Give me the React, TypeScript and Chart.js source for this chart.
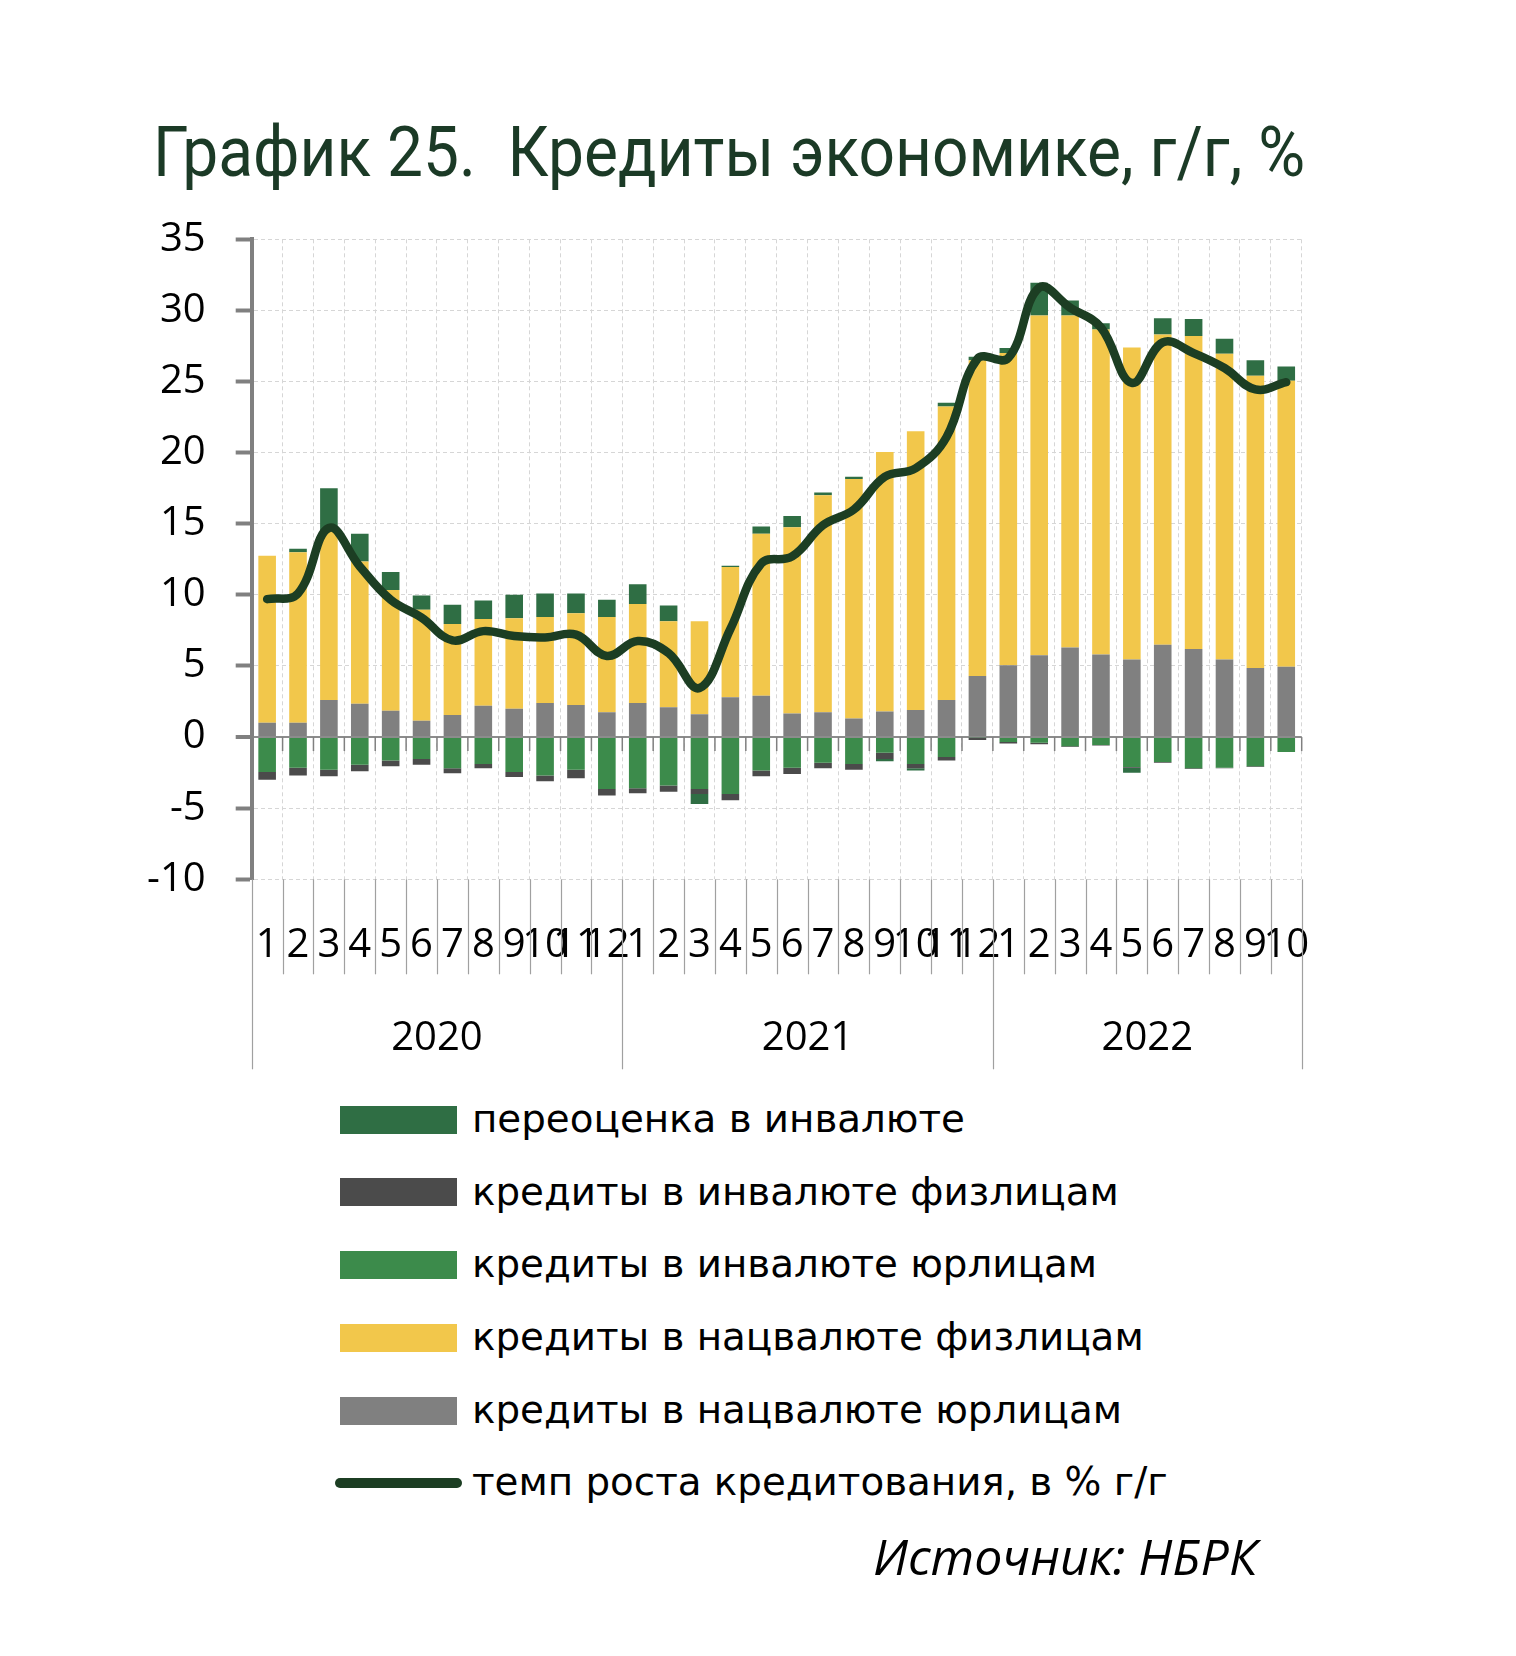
import React, { useEffect, useRef } from "react";
import { Chart, registerables } from "chart.js";

Chart.register(...registerables);

// ---------- data ----------
const months = [
  "1", "2", "3", "4", "5", "6", "7", "8", "9", "10", "11", "12",
  "1", "2", "3", "4", "5", "6", "7", "8", "9", "10", "11", "12",
  "1", "2", "3", "4", "5", "6", "7", "8", "9", "10",
];
const yearLabels = ["2020", "2021", "2022"];
const yearCounts = [12, 12, 10];

// кредиты в нацвалюте юрлицам
const natCorp = [
  1.0, 1.0, 2.6, 2.35, 1.85, 1.15, 1.55, 2.2, 2.0, 2.4, 2.25, 1.75,
  2.4, 2.1, 1.6, 2.8, 2.9, 1.65, 1.75, 1.3, 1.8, 1.9, 2.6, 4.3,
  5.05, 5.75, 6.3, 5.8, 5.45, 6.5, 6.2, 5.45, 4.85, 4.95,
];
// кредиты в нацвалюте физлицам
const natRetail = [
  11.75, 12.0, 11.9, 10.0, 8.5, 7.8, 6.4, 6.1, 6.35, 6.05, 6.45, 6.7,
  6.95, 6.05, 6.55, 9.15, 11.4, 13.1, 15.25, 16.85, 18.25, 19.6, 20.65, 22.2,
  21.95, 23.9, 23.35, 22.85, 21.95, 21.8, 22.0, 21.5, 20.55, 20.1,
];
// кредиты в инвалюте юрлицам
const fxCorp = [
  -2.45, -2.15, -2.3, -1.95, -1.65, -1.55, -2.2, -1.9, -2.45, -2.7, -2.3, -3.65,
  -3.6, -3.4, -3.65, -4.0, -2.35, -2.15, -1.8, -1.9, -1.1, -1.9, -1.4, -0.05,
  -0.35, -0.4, -0.65, -0.55, -2.1, -1.75, -2.2, -2.15, -2.05, -1.05,
];
// кредиты в инвалюте физлицам
const fxRetail = [
  -0.55, -0.55, -0.45, -0.45, -0.4, -0.4, -0.35, -0.3, -0.35, -0.4, -0.6, -0.45,
  -0.35, -0.45, -0.35, -0.45, -0.4, -0.45, -0.4, -0.4, -0.45, -0.3, -0.25, -0.15,
  -0.1, -0.1, -0.05, -0.05, -0.05, -0.05, -0.05, -0.05, -0.05, 0,
];
// переоценка в инвалюте
const fxRevaluation = [
  0, 0.25, 3.0, 1.95, 1.25, 1.0, 1.35, 1.3, 1.65, 1.65, 1.4, 1.2,
  1.4, 1.1, -0.7, 0.1, 0.5, 0.8, 0.2, 0.15, -0.15, -0.15, 0.25, 0.25,
  0.35, 2.3, 1.05, 0.45, -0.35, 1.15, 1.2, 1.05, 1.1, 1.0,
];
// темп роста кредитования, в % г/г
const growthRate = [
  9.7, 10.1, 14.7, 12.0, 9.65, 8.4, 6.8, 7.45, 7.1, 7.0, 7.2, 5.7,
  6.75, 5.9, 3.45, 7.6, 12.2, 12.7, 14.9, 16.0, 18.3, 18.9, 21.1, 26.6,
  26.65, 31.6, 30.2, 28.8, 24.9, 27.75, 27.0, 25.95, 24.45, 24.95,
];
const yMin = -10;
const yMax = 35;
const yStep = 5;

// ---------- styles ----------
const COLORS = {
  reval: "#2F6E44",
  fxRetail: "#4B4B4B",
  fxCorp: "#3C8B4B",
  natRetail: "#F2C74B",
  natCorp: "#808080",
  line: "#1C3E23",
};
const NUM_FONT = "'Open Sans', sans-serif";

const legendItems = [
  { label: "переоценка в инвалюте", color: COLORS.reval, kind: "box" },
  { label: "кредиты в инвалюте физлицам", color: COLORS.fxRetail, kind: "box" },
  { label: "кредиты в инвалюте юрлицам", color: COLORS.fxCorp, kind: "box" },
  { label: "кредиты в нацвалюте физлицам", color: COLORS.natRetail, kind: "box" },
  { label: "кредиты в нацвалюте юрлицам", color: COLORS.natCorp, kind: "box" },
  { label: "темп роста кредитования, в % г/г", color: COLORS.line, kind: "line" },
];

const axisDecor = {
  id: "axisDecor",
  beforeDatasetsDraw(chart: any) {
    const { ctx } = chart;
    const xs = chart.scales.x;
    const ys = chart.scales.y;
    const step = xs.getPixelForValue(1) - xs.getPixelForValue(0);
    const zeroY = ys.getPixelForValue(0);
    ctx.save();
    ctx.strokeStyle = "#808080";
    ctx.lineWidth = 1.5;
    for (let i = 0; i <= months.length; i++) {
      const bx = xs.getPixelForValue(i) - step / 2;
      ctx.beginPath();
      ctx.moveTo(bx, zeroY);
      ctx.lineTo(bx, zeroY + 14);
      ctx.stroke();
    }
    ctx.restore();
  },
  afterDraw(chart: any) {
    const { ctx, chartArea } = chart;
    const xs = chart.scales.x;
    const step = xs.getPixelForValue(1) - xs.getPixelForValue(0);
    const bnd = (i: number) => xs.getPixelForValue(i) - step / 2;
    const yearStarts: number[] = [0];
    yearCounts.forEach((c, k) => yearStarts.push(yearStarts[k] + c));
    ctx.save();
    ctx.strokeStyle = "#A0A0A0";
    ctx.lineWidth = 1.2;
    for (let i = 0; i <= months.length; i++) {
      const isYear = yearStarts.includes(i);
      const bx = Math.round(bnd(i)) + 0.5;
      ctx.beginPath();
      ctx.moveTo(bx, chartArea.bottom);
      ctx.lineTo(bx, chartArea.bottom + (isYear ? 190 : 95));
      ctx.stroke();
    }
    ctx.fillStyle = "#000";
    ctx.font = `40px ${NUM_FONT}`;
    ctx.textAlign = "center";
    ctx.textBaseline = "alphabetic";
    yearLabels.forEach((lab, k) => {
      const cx = (bnd(yearStarts[k]) + bnd(yearStarts[k + 1])) / 2;
      ctx.fillText(lab, cx, chartArea.bottom + 171);
    });
    ctx.restore();
  },
};

export default function App() {
  const ref = useRef<HTMLCanvasElement>(null);

  useEffect(() => {
    const barCommon = {
      type: "bar" as const,
      stack: "credit",
      barPercentage: 0.57,
      categoryPercentage: 1.0,
      borderWidth: 0,
    };
    const chart = new Chart(ref.current as HTMLCanvasElement, {
      type: "bar",
      data: {
        labels: months,
        datasets: [
          {
            type: "line",
            label: legendItems[5].label,
            data: growthRate,
            borderColor: COLORS.line,
            backgroundColor: COLORS.line,
            borderWidth: 8.5,
            pointRadius: 0,
            tension: 0.4,
            stack: "line",
            borderCapStyle: "round",
            borderJoinStyle: "round",
          } as any,
          { ...barCommon, label: legendItems[4].label, data: natCorp, backgroundColor: COLORS.natCorp },
          { ...barCommon, label: legendItems[3].label, data: natRetail, backgroundColor: COLORS.natRetail },
          { ...barCommon, label: legendItems[2].label, data: fxCorp, backgroundColor: COLORS.fxCorp },
          { ...barCommon, label: legendItems[1].label, data: fxRetail, backgroundColor: COLORS.fxRetail },
          { ...barCommon, label: legendItems[0].label, data: fxRevaluation, backgroundColor: COLORS.reval },
        ],
      },
      options: {
        responsive: false,
        animation: false,
        devicePixelRatio: 1,
        layout: { padding: { left: 140, right: 214.3, top: 239.3, bottom: 0 } },
        plugins: {
          legend: { display: false },
          title: { display: false },
          tooltip: { enabled: false },
        },
        scales: {
          x: {
            stacked: true,
            offset: true,
            grid: {
              offset: true,
              color: "#D6D6D6",
              lineWidth: 1,
              drawTicks: false,
            },
            border: { display: false, dash: [4, 3] },
            ticks: {
              autoSkip: false,
              maxRotation: 0,
              minRotation: 0,
              padding: 42,
              color: "#000",
              font: { family: NUM_FONT, size: 40 },
            },
            afterFit(scale: any) {
              scale.height = 200.7;
            },
          },
          y: {
            stacked: true,
            min: yMin,
            max: yMax,
            ticks: {
              stepSize: yStep,
              padding: 30,
              color: "#000",
              font: { family: NUM_FONT, size: 40 },
            },
            grid: {
              color: (c: any) => (c.tick && c.tick.value === 0 ? "#8C8C8C" : "#D6D6D6"),
              lineWidth: (c: any) => (c.tick && c.tick.value === 0 ? 2 : 1),
              drawTicks: true,
              tickLength: 16,
              tickColor: "#808080",
              tickWidth: 4,
              tickBorderDash: [],
            },
            border: {
              display: true,
              color: "#808080",
              width: 4,
              dash: (c: any) => (c.tick && c.tick.value === 0 ? [] : [4, 3]),
            },
            afterFit(scale: any) {
              scale.width = 111.7;
            },
          },
        },
      } as any,
      plugins: [axisDecor],
    });
    return () => chart.destroy();
  }, []);

  const legendTop0 = 1132.7;
  const legendStep = 72.7;
  const legendFont = 38.8;
  const titleFont = 70;
  const sourceFont = 50;

  return (
    <div
      style={{
        position: "absolute",
        left: 0,
        top: 0,
        width: 1516,
        height: 1650,
        background: "#fff",
        overflow: "hidden",
      }}
    >
      <div
        style={{
          position: "absolute",
          left: 153,
          top: 176.4 - 0.8415 * titleFont,
          fontFamily: "Roboto, sans-serif",
          fontSize: titleFont,
          lineHeight: 1,
          color: "#1B3A26",
          whiteSpace: "pre",
          transform: "scaleX(0.915)",
          transformOrigin: "0 0",
        }}
      >
        {"График 25.  Кредиты экономике, г/г, %"}
      </div>
      <canvas
        ref={ref}
        width={1516}
        height={1080}
        style={{ position: "absolute", left: 0, top: 0, width: 1516, height: 1080 }}
      />
      {legendItems.map((it, k) => {
        const base = legendTop0 + k * legendStep;
        const centerY = base - 13;
        return (
          <React.Fragment key={k}>
            {it.kind === "box" ? (
              <div
                style={{
                  position: "absolute",
                  left: 340,
                  top: centerY - 14,
                  width: 117,
                  height: 28,
                  background: it.color,
                }}
              />
            ) : (
              <div
                style={{
                  position: "absolute",
                  left: 335,
                  top: centerY - 5,
                  width: 127,
                  height: 10,
                  borderRadius: 5,
                  background: it.color,
                }}
              />
            )}
            <div
              style={{
                position: "absolute",
                left: 472,
                top: base - 0.846 * legendFont,
                fontFamily: "'DejaVu Sans', sans-serif",
                fontSize: legendFont,
                lineHeight: 1,
                color: "#000",
                whiteSpace: "pre",
              }}
            >
              {it.label}
            </div>
          </React.Fragment>
        );
      })}
      <div
        style={{
          position: "absolute",
          left: 873,
          top: 1575 - 0.888 * sourceFont,
          fontFamily: "'Open Sans', sans-serif",
          fontStyle: "italic",
          fontSize: sourceFont,
          lineHeight: 1,
          color: "#000",
          whiteSpace: "pre",
        }}
      >
        Источник: НБРК
      </div>
    </div>
  );
}
